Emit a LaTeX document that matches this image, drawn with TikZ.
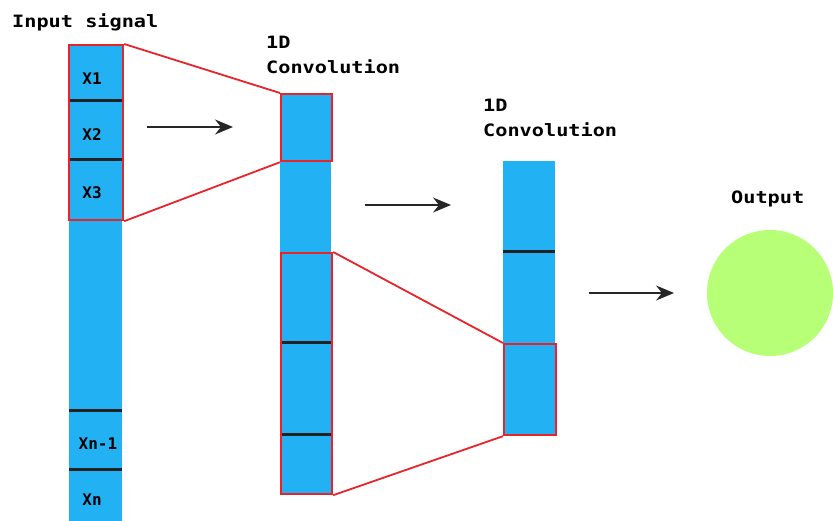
\documentclass[tikz,border=0pt]{standalone}
\usepackage{fontspec}
\setmonofont[FakeStretch=1.19]{DejaVu Sans Mono}
\newfontfamily\cellfont{DejaVu Sans Mono}
\usetikzlibrary{arrows.meta}
\definecolor{colblue}{HTML}{22B2F3}
\definecolor{outgreen}{HTML}{B8FF78}
\definecolor{winred}{HTML}{E8232A}
\definecolor{divider}{HTML}{222222}
\begin{document}
\begin{tikzpicture}[x=1pt,y=-1pt,
  column/.style={fill=colblue,draw=none,inner sep=0pt,anchor=north west},
  window/.style={draw=winred,line width=2.2pt,fill=none,inner sep=0pt,anchor=north west},
  link/.style={winred,line width=1.8pt},
  divline/.style={divider,line width=3pt},
  flow/.style={line width=1.8pt,black!85,-{Stealth[length=18pt,width=15pt,inset=6pt]}},
  title/.style={font=\ttfamily\bfseries\fontsize{17}{25}\selectfont,anchor=north west,inner sep=0pt,align=left},
  cell/.style={font=\cellfont\bfseries\fontsize{16}{18}\selectfont,inner sep=0pt}]
\useasboundingbox (0,0) rectangle (833,521);

% input signal column
\node[column,minimum width=53pt,minimum height=477pt] (in) at (69,44) {};
\draw[divline] (69,101) -- (122,101);
\draw[divline] (69,160) -- (122,160);
\draw[divline] (69,410) -- (122,410);
\draw[divline] (69,469) -- (122,469);
\node[cell] (x1) at (92,79) {X1};
\node[cell] (x2) at (92,135) {X2};
\node[cell] (x3) at (92,193) {X3};
\node[cell] (xn1) at (98,444) {Xn-1};
\node[cell] (xn) at (92,500) {Xn};
\node[title] (tin) at (12,13) {Input signal};

% first convolution column
\node[column,minimum width=51pt,minimum height=400pt] (c1) at (280,93) {};
\draw[divline] (280,343) -- (331,343);
\draw[divline] (280,434) -- (331,434);
\node[title] (t1) at (266,36) {1D\\Convolution};

% second convolution column
\node[column,minimum width=52pt,minimum height=273pt] (c2) at (503,161) {};
\draw[divline] (503,252) -- (555,252);
\node[title] (t2) at (483,99) {1D\\Convolution};

% output
\node[circle,fill=outgreen,minimum size=126pt,inner sep=0pt] (out) at (770,293) {};
\node[title] (tout) at (731,191) {Output};

% receptive windows
\node[window,minimum width=54pt,minimum height=175pt] (w0) at (68,44) {};
\node[window,minimum width=51pt,minimum height=67pt] (w1) at (280,93) {};
\node[window,minimum width=51pt,minimum height=241pt] (w2) at (280,252) {};
\node[window,minimum width=52pt,minimum height=91pt] (w3) at (503,343) {};

\draw[link] (w0.north east) -- (w1.north west);
\draw[link] (w0.south east) -- (w1.south west);
\draw[link] (w2.north east) -- (w3.north west);
\draw[link] (w2.south east) -- (w3.south west);

% flow arrows
\coordinate (a1s) at (147,127); \coordinate (a1e) at (233,127);
\coordinate (a2s) at (365,205); \coordinate (a2e) at (451,205);
\coordinate (a3s) at (589,293); \coordinate (a3e) at (674,293);
\draw[flow] (a1s) -- (a1e);
\draw[flow] (a2s) -- (a2e);
\draw[flow] (a3s) -- (a3e);
\end{tikzpicture}
\end{document}
